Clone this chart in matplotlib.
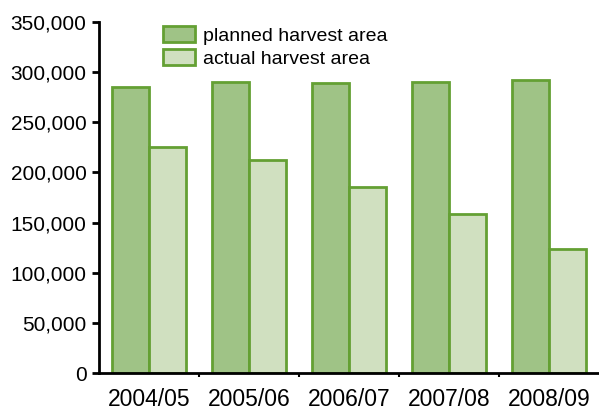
import matplotlib
matplotlib.use("Agg")
import matplotlib.pyplot as plt
import numpy as np
from matplotlib.ticker import FuncFormatter, FixedLocator

categories = ["2004/05", "2005/06", "2006/07", "2007/08", "2008/09"]
planned = [285000, 290000, 289000, 290000, 292000]
actual = [225000, 212000, 185000, 159000, 124000]

plt.rcParams['font.family'] = ['Liberation Sans', 'DejaVu Sans']

fig = plt.figure(figsize=(5.99, 4.11), dpi=100)
ax = fig.add_axes([99/599, 1-373/411, 1-99/599, (373-22)/411])

x = np.arange(len(categories))
w = 0.37
edge = '#64a033'
ax.bar(x - w/2, planned, w, color='#9fc386', edgecolor=edge, linewidth=2, label='planned harvest area')
ax.bar(x + w/2, actual, w, color='#d0e0c0', edgecolor=edge, linewidth=2, label='actual harvest area')

ax.set_xlim(-0.5, len(categories) - 0.5)
ax.set_ylim(0, 350000)
ax.set_yticks(np.arange(0, 350001, 50000))
ax.yaxis.set_major_formatter(FuncFormatter(lambda v, p: f"{int(v):,}"))
ax.set_xticks(x)
ax.set_xticklabels(categories)
ax.xaxis.set_minor_locator(FixedLocator(np.arange(0.5, len(categories) - 1, 1.0)))
ax.tick_params(axis='x', which='major', length=0, labelsize=16.5, pad=11)
ax.tick_params(axis='x', which='minor', length=3, width=1.5, direction='out')
ax.tick_params(axis='y', length=5, width=2, labelsize=15, pad=4)

for s in ['top', 'right']:
    ax.spines[s].set_visible(False)
for s in ['left', 'bottom']:
    ax.spines[s].set_linewidth(2)

leg = ax.legend(loc='upper left', bbox_to_anchor=(0.112, 1.01), frameon=False,
                prop={'size': 14},
                handlelength=1.65, handleheight=0.9, handletextpad=0.4,
                labelspacing=0.2, borderaxespad=0)

fig.savefig("out.png", dpi=100)
